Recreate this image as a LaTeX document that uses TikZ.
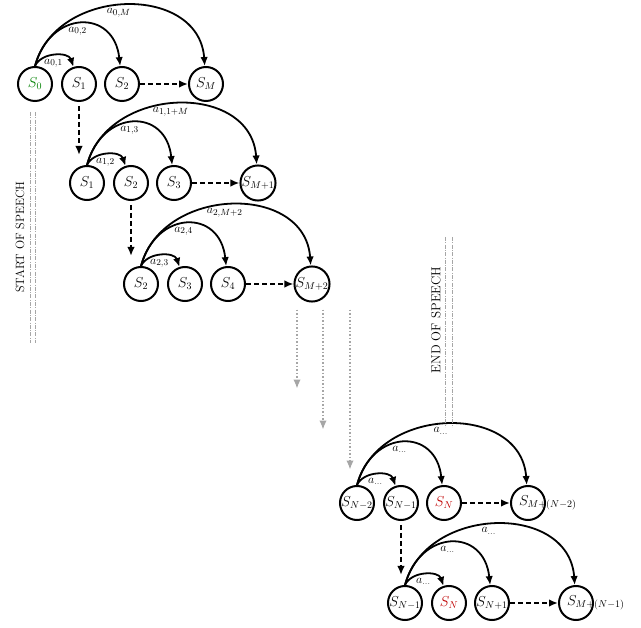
\documentclass[tikz,border=0pt]{standalone}
\usepackage{amsmath}
\usepackage{amssymb}
\usepackage{tikz}
\usetikzlibrary{arrows.meta}
\usepackage{xcolor}

\begin{document}
\begin{tikzpicture}[x=1pt,y=-1pt,>={Latex[length=9pt,width=7.5pt]},
  state/.style={draw,circle,line width=2pt,minimum size=34pt,inner sep=0pt,font=\fontsize{14}{16}\selectfont},
  arc/.style={->,line width=1.8pt},
  lbl/.style={pos=0.47,below,inner sep=2.5pt,font=\fontsize{13}{15}\selectfont},
  dasharrow/.style={->,line width=1.8pt,dash pattern=on 5pt off 3pt},
  fade/.style={->,gray!70,line width=1.5pt,dotted},
  speech/.style={gray!70,line width=0.5pt,dash pattern=on 4pt off 1.5pt on 0.6pt off 1.5pt}]
  \useasboundingbox (0,0) rectangle (641,628);

  % first pass
  \node[state] (r0a) at (35,84)  {$\color{green!50!black}S_0$};
  \node[state] (r0b) at (79,84)  {$S_1$};
  \node[state] (r0c) at (122,84) {$S_2$};
  \node[state] (r0d) at (206,84) {$S_M$};
  % second pass
  \node[state] (r1a) at (87,183)  {$S_1$};
  \node[state] (r1b) at (131,183) {$S_2$};
  \node[state] (r1c) at (174,183) {$S_3$};
  \node[state] (r1d) at (258,183) {$S_{M+1}$};
  % third pass
  \node[state] (r2a) at (141,284) {$S_2$};
  \node[state] (r2b) at (185,284) {$S_3$};
  \node[state] (r2c) at (228,284) {$S_4$};
  \node[state] (r2d) at (312,284) {$S_{M+2}$};
  % last passes
  \node[state] (r3a) at (357,503) {$S_{N-2}$};
  \node[state] (r3b) at (401,503) {$S_{N-1}$};
  \node[state] (r3c) at (444,503) {$\color{red!75!black}S_N$};
  \node[state] (r3d) at (528,503) {\makebox[18pt][l]{$S_{M+(N-2)}$}};
  \node[state] (r4a) at (405,603) {$S_{N-1}$};
  \node[state] (r4b) at (449,603) {$\color{red!75!black}S_N$};
  \node[state] (r4c) at (492,603) {$S_{N+1}$};
  \node[state] (r4d) at (576,603) {\makebox[18pt][l]{$S_{M+(N-1)}$}};

  \foreach \r/\la/\lb/\lc in {0/{0,1}/{0,2}/{0,M},1/{1,2}/{1,3}/{1,1+M},2/{2,3}/{2,4}/{2,M+2},3/\dots/\dots/\dots,4/\dots/\dots/\dots}{
    \draw[arc] (r\r a.north) to[out=65,in=108,looseness=1.05] node[lbl] {$a_{\la}$} (r\r b);
    \draw[arc] (r\r a.north) to[out=75,in=96,looseness=1.75] node[lbl] {$a_{\lb}$} (r\r c);
    \draw[arc] (r\r a.north) to[out=75,in=94,looseness=1.25] node[lbl] {$a_{\lc}$} (r\r d);
    \draw[dasharrow] (r\r c) -- (r\r d);
  }

  \draw[dasharrow,shorten <=4pt,shorten >=10pt] (r0b.south) -- (r0b |- r1a.north);
  \draw[dasharrow,shorten <=4pt,shorten >=10pt] (r1b.south) -- (r1b |- r2a.north);
  \draw[dasharrow,shorten <=4pt,shorten >=10pt] (r3b.south) -- (r3b |- r4a.north);

  \foreach \dx/\len in {-15/79,11/120,38/160}
    \draw[fade] ([shift={(\dx,7)}]r2d.south) -- ++(0,\len);

  \draw[speech] (30,112) -- (30,343);
  \draw[speech] (35,112) -- (35,343);
  \node[rotate=90,font=\fontsize{12}{14}\selectfont] (start) at (20,237) {START OF SPEECH};
  \draw[speech] (445,237) -- (445,427);
  \draw[speech] (452,237) -- (452,427);
  \node[rotate=90,font=\fontsize{13}{15}\selectfont] (stop) at (436,320) {END OF SPEECH};
\end{tikzpicture}
\end{document}
